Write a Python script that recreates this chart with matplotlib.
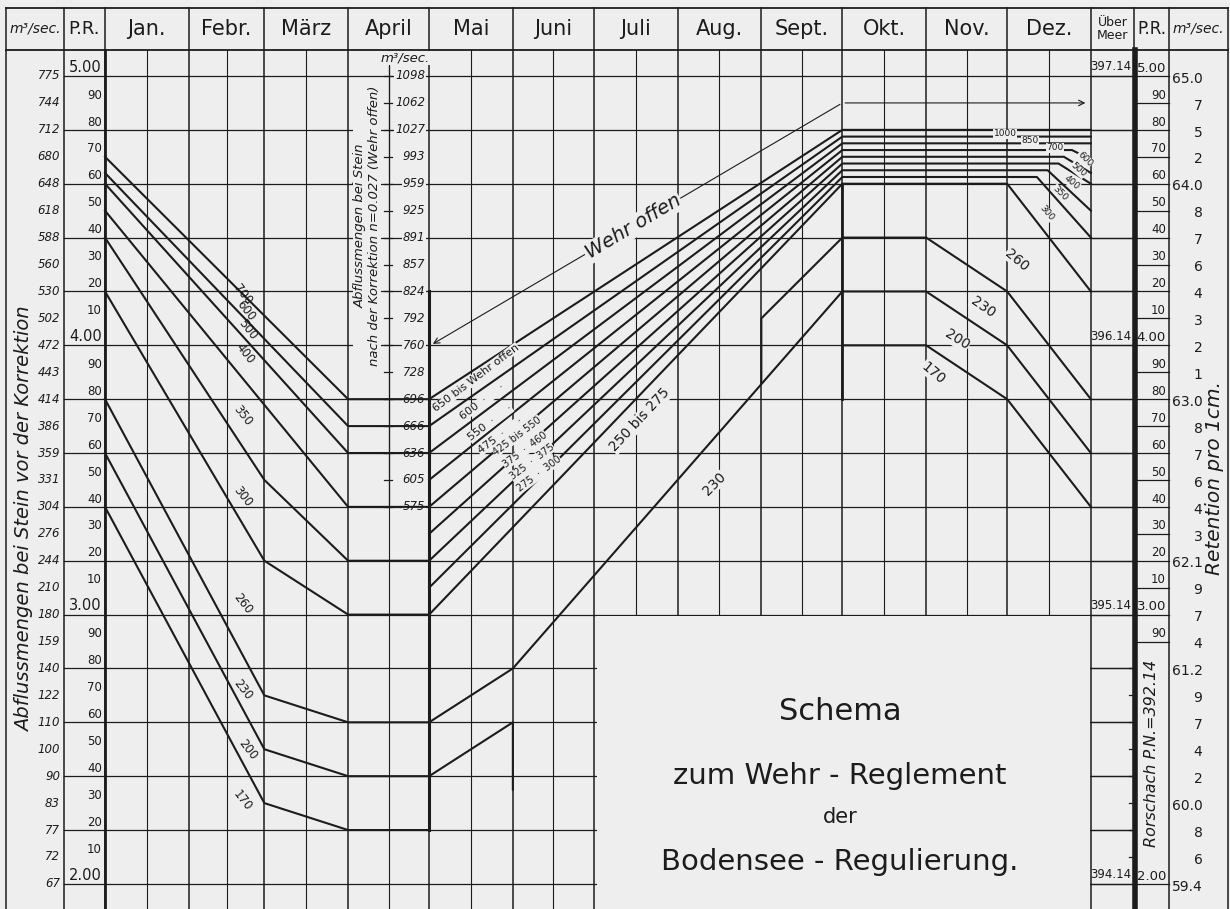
import matplotlib.pyplot as plt
from matplotlib.patches import Rectangle

# ---------------- data ----------------
months = ['Jan.', 'Febr.', 'März', 'April', 'Mai', 'Juni', 'Juli', 'Aug.',
          'Sept.', 'Okt.', 'Nov.', 'Dez.']
month_days = [31, 28, 31, 30, 31, 30, 31, 31, 30, 31, 30, 31]

pr_levels = [5.0, 4.9, 4.8, 4.7, 4.6, 4.5, 4.4, 4.3, 4.2, 4.1, 4.0,
             3.9, 3.8, 3.7, 3.6, 3.5, 3.4, 3.3, 3.2, 3.1, 3.0,
             2.9, 2.8, 2.7, 2.6, 2.5, 2.4, 2.3, 2.2, 2.1, 2.0]
pr_labels = ['5.00', '90', '80', '70', '60', '50', '40', '30', '20', '10', '4.00',
             '90', '80', '70', '60', '50', '40', '30', '20', '10', '3.00',
             '90', '80', '70', '60', '50', '40', '30', '20', '10', '2.00']
q_vor = [775, 744, 712, 680, 648, 618, 588, 560, 530, 502, 472, 443, 414, 386,
         359, 331, 304, 276, 244, 210, 180, 159, 140, 122, 110, 100, 90, 83,
         77, 72, 67]
q_nach = [1098, 1062, 1027, 993, 959, 925, 891, 857, 824, 792, 760, 728, 696,
          666, 636, 605, 575]
meer_levels = [5.0, 4.0, 3.0, 2.0]
meer_labels = ['397.14', '396.14', '395.14', '394.14']
retention = ['65.0', '7', '5', '2', '64.0', '8', '7', '6', '4', '3', '2', '1',
             '63.0', '8', '7', '6', '4', '3', '62.1', '9', '7', '4', '61.2',
             '9', '7', '4', '2', '60.0', '8', '6', '59.4']

# Jan - April lines: (days, levels)
winter_lines = [
    ([0, 90, 120], [4.70, 3.80, 3.80]),
    ([0, 90, 120], [4.64, 3.70, 3.70]),
    ([0, 90, 120], [4.60, 3.60, 3.60]),
    ([0, 90, 120], [4.50, 3.40, 3.40]),
    ([0, 59, 90, 120], [4.40, 3.50, 3.20, 3.20]),
    ([0, 59, 90, 120], [4.20, 3.20, 3.00, 3.00]),
    ([0, 59, 90, 120], [3.80, 2.70, 2.60, 2.60]),
    ([0, 59, 90, 120], [3.60, 2.50, 2.40, 2.40]),
    ([0, 59, 90, 120], [3.40, 2.30, 2.20, 2.20]),
]
winter_zones = ['700', '600', '500', '400', '350', '300', '260', '230', '200', '170']
winter_zone_pos = [(51, 4.19), (52, 4.13), (53, 4.06), (52, 3.97), (51, 3.74),
                   (51, 3.44), (51, 3.04), (51, 2.72), (53, 2.50), (51, 2.31)]

# Mai - Sept fan, ending in the Okt - Dez band
fan_start = [3.80, 3.70, 3.60, 3.50, 3.40, 3.30, 3.20, 3.10, 3.00]
fan_end = [4.80, 4.775, 4.75, 4.725, 4.70, 4.675, 4.65, 4.625, 4.60]
fan_break = [365, 365, 365, 358, 355, 353, 349, 345, 334]
fan_final = [4.80, 4.775, 4.75, 4.69, 4.64, 4.60, 4.50, 4.40, 4.20]
band_zones = ['1000', '850', '700', '600', '500', '400', '350', '300']
band_zone_pos = [(1005, 134, 0), (1030, 141, 0), (1055, 148, 0), (1085, 159, -45),
                 (1078, 170, -40), (1072, 183, -40), (1060, 193, -45), (1047, 213, -50)]

# lower lines (summer rise, autumn fall)
low_lines = [
    ([243, 243, 273, 304, 334, 365], [3.86, 4.10, 4.40, 4.40, 4.20, 3.80]),
    ([120, 151, 273, 304, 334, 365], [2.60, 2.80, 4.20, 4.20, 4.00, 3.60]),
    ([273, 304, 334, 365], [4.00, 4.00, 3.80, 3.40]),
    ([120, 151, 151], [2.40, 2.60, 2.35]),
]
low_zones = ['260', '230', '200', '170']
low_zone_pos = [(1017, 260, -40), (983, 307, -35), (957, 340, -32), (933, 373, -40)]

mai_zones = ['650 bis Wehr offen', '600  ·     ·', '550  ·     ·', '475  ·     ·',
             '425 bis 550', '375  ·  460', '325  ·  375', '275  ·  300']
mai_zone_pos = [(476, 378), (482, 402), (490, 423), (500, 436),
                (517, 436), (525, 450), (532, 462), (539, 474)]
summer_zones = ['250 bis 275', '230']
summer_zone_pos = [(640, 420, 47), (714, 484, 45)]

# ---------------- geometry (figure = 1230 x 909 px) ----------------
PX_DAY = 2.701
PX_M = 269.3
X0, Y0 = 105, 76


def dx(px):
    return (px - X0) / PX_DAY


def dy(py):
    return 5.0 - (py - Y0) / PX_M


paper = '#eeeeee'
ink = '#1c1c1c'
fig = plt.figure(figsize=(12.3, 9.09), dpi=100, facecolor=paper)
ax = fig.add_axes([0, 0, 1, 1])
ax.set_facecolor(paper)
ax.set_xlim(dx(0), dx(1230))
ax.set_ylim(dy(909), dy(0))
ax.axis('off')

top, head, bot = dy(8), dy(50), dy(909)
c_left, c_pr, c_end = dx(6), dx(64), 365
c_meer, c_pr2, c_right = dx(1134), dx(1169), dx(1228)

bounds = [0]
for n in month_days:
    bounds.append(bounds[-1] + n)
mids = [(a + b) / 2 for a, b in zip(bounds[:-1], bounds[1:])]

# frame and header
for x in [c_left, c_pr, c_meer, c_pr2, c_right] + bounds:
    ax.plot([x, x], [bot, top], color=ink, lw=1.1)
ax.plot([c_left, c_right], [top, top], color=ink, lw=1.3)
ax.plot([c_left, c_right], [head, head], color=ink, lw=1.3)
for x in mids:
    ax.plot([x, x], [bot, head], color=ink, lw=0.8)
for lv in pr_levels[::2]:
    ax.plot([c_pr, c_meer], [lv, lv], color=ink, lw=0.9)
ax.plot([0, 0], [bot, head], color=ink, lw=2.0)
ax.plot([120, 120], [2.2, 4.2], color=ink, lw=2.2)

hy = (top + head) / 2
for name, m in zip(months, mids):
    ax.text(m, hy, name, ha='center', va='center', fontsize=15, color=ink)
ax.text((c_left + c_pr) / 2, hy, 'm³/sec.', ha='center', va='center',
        fontsize=10, style='italic', color=ink)
ax.text((c_pr + 0) / 2, hy, 'P.R.', ha='center', va='center', fontsize=13, color=ink)
ax.text((c_end + c_meer) / 2, hy, 'Über\nMeer', ha='center', va='center',
        fontsize=9, linespacing=1.0, color=ink)
ax.text((c_meer + c_pr2) / 2, hy, 'P.R.', ha='center', va='center', fontsize=12, color=ink)
ax.text((c_pr2 + c_right) / 2, hy, 'm³/sec.', ha='center', va='center',
        fontsize=10, style='italic', color=ink)

# left columns
for lv, lab, q in zip(pr_levels, pr_labels, q_vor):
    big = '.' in lab
    ax.text(dx(102), lv + 0.005, lab, ha='right', va='bottom',
            fontsize=10.5 if big else 8.5, color=ink)
    ax.text(dx(60), lv, str(q), ha='right', va='center', fontsize=8.5,
            style='italic', color=ink)
ax.text(dx(25), dy(519), 'Abflussmengen bei Stein vor der Korrektion',
        rotation=90, ha='center', va='center', fontsize=14, style='italic', color=ink)

# April inner axis
ax_x = mids[3]
ax.plot([ax_x, ax_x], [dy(66), 3.4], color=ink, lw=0.9)
for lv, q in zip(pr_levels, q_nach):
    ax.plot([ax_x - 1.8, ax_x + 1.2], [lv, lv], color=ink, lw=0.9)
    ax.text(dx(425), lv, str(q), ha='right', va='center', fontsize=8.5,
            style='italic', color=ink,
            bbox=dict(facecolor=paper, edgecolor='none', pad=0.6))
ax.text(dx(405), dy(58), 'm³/sec.', ha='center', va='center', fontsize=9.5,
        style='italic', color=ink, bbox=dict(facecolor=paper, edgecolor='none', pad=0.5))
ax.text(dx(367), dy(226), 'Abflussmengen bei Stein\nnach der Korrektion n=0.027 (Wehr offen)',
        rotation=90, ha='center', va='center', fontsize=9.5, style='italic',
        linespacing=1.15, color=ink, bbox=dict(facecolor=paper, edgecolor='none', pad=0.5))

# right columns
ax.plot([dx(1135.5), dx(1135.5)], [bot, head], color=ink, lw=4)
for lv, lab, r in zip(pr_levels, pr_labels, retention):
    if lv >= 2.85:
        ax.plot([dx(1137), c_pr2], [lv, lv], color=ink, lw=0.9)
        ax.text(dx(1166), lv + 0.005, lab, ha='right', va='bottom',
                fontsize=9.5 if '.' in lab else 8.5, color=ink)
    elif lv > 2.0:
        ax.plot([dx(1129), dx(1135)], [lv, lv], color=ink, lw=0.9)
    if '.' in r:
        ax.text(dx(1172), lv - 0.01, r, ha='left', va='center', fontsize=10, color=ink)
    else:
        ax.text(dx(1198), lv - 0.01, r, ha='center', va='center', fontsize=10, color=ink)
ax.text(dx(1166), 2.005, '2.00', ha='right', va='bottom', fontsize=9.5, color=ink)
for lv, lab in zip(meer_levels, meer_labels):
    ax.text(dx(1111), lv + 0.01, lab, ha='center', va='bottom', fontsize=8.5, color=ink)
for lv in pr_levels[::2]:
    ax.plot([c_end, dx(1133)], [lv, lv], color=ink, lw=0.9)
ax.plot([dx(1137), c_pr2], [2.0, 2.0], color=ink, lw=0.9)
ax.text(dx(1152), dy(753), 'Rorschach P.N.=392.14', rotation=90, ha='center',
        va='center', fontsize=11.5, style='italic', color=ink)
ax.text(dx(1214), dy(478), 'Retention pro 1cm.', rotation=90, ha='center',
        va='center', fontsize=14.5, style='italic', color=ink)

# blank title area
ax.add_patch(Rectangle((bounds[6] + 1.2, bot), c_end - bounds[6] - 1.6, 3.0 - bot - 0.004,
                       facecolor=paper, edgecolor='none', zorder=3))

# regulation lines
lw = 1.5
for days, lv in winter_lines:
    ax.plot(days, lv, color=ink, lw=lw, zorder=4)
for lab, (d, lv) in zip(winter_zones, winter_zone_pos):
    ax.text(d, lv, lab, rotation=-52, ha='center', va='center', fontsize=8.5,
            color=ink, zorder=5)
for s, e, b, f in zip(fan_start, fan_end, fan_break, fan_final):
    ax.plot([120, 273, b, 365], [s, e, e, f], color=ink, lw=lw, zorder=4)
for days, lv in low_lines:
    ax.plot(days, lv, color=ink, lw=lw, zorder=4)
ax.plot([273, 273], [3.80, 4.60], color=ink, lw=2.0, zorder=4)

# Wehr offen guide line
ax.annotate('', xy=(120.5, 4.0), xytext=(273, 4.90),
            arrowprops=dict(arrowstyle='->', color=ink, lw=0.8))
ax.annotate('', xy=(364, 4.90), xytext=(273, 4.90),
            arrowprops=dict(arrowstyle='->', color=ink, lw=0.8))
ax.text(dx(633), dy(227), 'Wehr offen', rotation=31, ha='center', va='center',
        fontsize=14, style='italic', color=ink, zorder=5,
        bbox=dict(facecolor=paper, edgecolor='none', pad=1))

for i, (lab, (px, py)) in enumerate(zip(mai_zones, mai_zone_pos)):
    ax.text(dx(px), dy(py), lab, rotation=37, ha='center', va='center',
            fontsize=8 if i < 4 else 7, color=ink, zorder=5,
            bbox=dict(facecolor=paper, edgecolor='none', pad=0.2))
for lab, (px, py, rot) in zip(summer_zones, summer_zone_pos):
    ax.text(dx(px), dy(py), lab, rotation=rot, ha='center', va='center',
            fontsize=10, color=ink, zorder=5,
            bbox=dict(facecolor=paper, edgecolor='none', pad=0.5))

for lab, (px, py, rot) in zip(band_zones, band_zone_pos):
    ax.text(dx(px), dy(py), lab, rotation=rot, ha='center', va='center',
            fontsize=6.5, color=ink, zorder=5,
            bbox=dict(facecolor=paper, edgecolor='none', pad=0.2))
for lab, (px, py, rot) in zip(low_zones, low_zone_pos):
    ax.text(dx(px), dy(py), lab, rotation=rot, ha='center', va='center',
            fontsize=10, color=ink, zorder=5,
            bbox=dict(facecolor=paper, edgecolor='none', pad=0.3))

# title
ax.text(dx(840), dy(712), 'Schema', ha='center', va='center', fontsize=22, color=ink, zorder=5)
ax.text(dx(840), dy(776), 'zum Wehr - Reglement', ha='center', va='center', fontsize=21,
        color=ink, zorder=5)
ax.text(dx(840), dy(817), 'der', ha='center', va='center', fontsize=15, color=ink, zorder=5)
ax.text(dx(840), dy(862), 'Bodensee - Regulierung.', ha='center', va='center', fontsize=21,
        color=ink, zorder=5)

fig.savefig('out.png', dpi=100, facecolor=paper)
